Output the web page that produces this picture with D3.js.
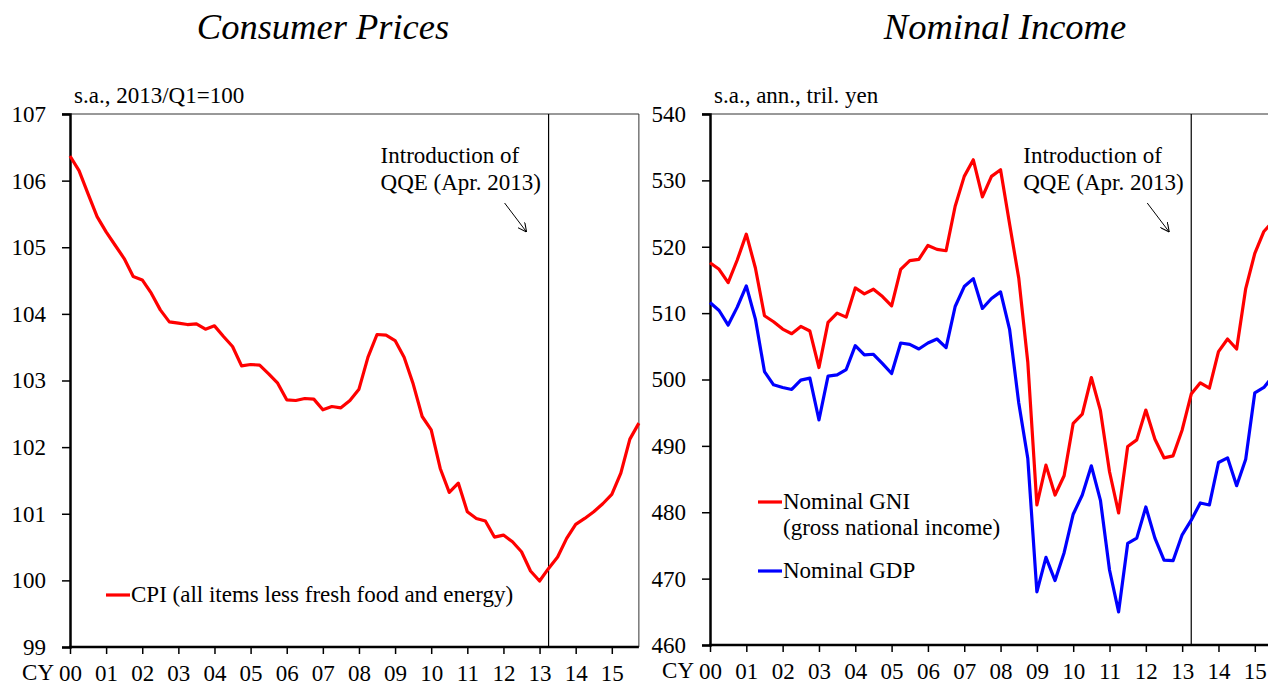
<!DOCTYPE html>
<html>
<head>
<meta charset="utf-8">
<script src="https://cdn.jsdelivr.net/npm/d3@7"></script>
<style>
  body { margin: 0; background: #fff; }
  svg { display: block; font-family: "Liberation Serif", "Times New Roman", serif; }
</style>
</head>
<body>
<svg id="chart" width="1268" height="682"></svg>
<script>
// quarterly data, 2000/Q1 - 2015/Q4
const startYear = 2000;
const yearLabels = ["00", "01", "02", "03", "04", "05", "06", "07", "08", "09", "10", "11", "12", "13", "14", "15"];
const qqeQuarter = 53; // 2013/Q2

const cpi = [
  106.37, 106.15, 105.80, 105.46, 105.23, 105.03, 104.83, 104.56,
  104.51, 104.31, 104.06, 103.88, 103.86, 103.84, 103.85, 103.77,
  103.82, 103.66, 103.51, 103.22, 103.24, 103.23, 103.10, 102.96,
  102.71, 102.70, 102.73, 102.72, 102.56, 102.61, 102.59, 102.70,
  102.87, 103.35, 103.69, 103.68, 103.60, 103.35, 102.95, 102.46,
  102.26, 101.68, 101.32, 101.46, 101.03, 100.93, 100.89, 100.65,
  100.68, 100.58, 100.43, 100.14, 99.99, 100.18, 100.35, 100.63,
  100.84, 100.93, 101.03, 101.15, 101.29, 101.61, 102.12, 102.36
];

const gni = [
  517.6, 516.6, 514.6, 518.0, 521.9, 516.8, 509.6, 508.7,
  507.6, 506.9, 508.0, 507.3, 501.8, 508.6, 510.0, 509.4,
  513.8, 512.9, 513.6, 512.5, 511.1, 516.6, 517.9, 518.1,
  520.2, 519.6, 519.4, 526.1, 530.6, 533.1, 527.5, 530.6,
  531.6, 523.4, 515.3, 502.6, 481.1, 487.1, 482.6, 485.5,
  493.4, 494.8, 500.3, 495.3, 486.1, 479.9, 489.9, 490.9,
  495.4, 491.0, 488.2, 488.5, 492.4, 497.8, 499.5, 498.7,
  504.2, 506.1, 504.6, 513.7, 519.0, 522.3, 523.8, 525.0
];

const gdp = [
  511.6, 510.4, 508.2, 510.9, 514.1, 509.1, 501.2, 499.2,
  498.8, 498.5, 499.9, 500.2, 493.9, 500.5, 500.7, 501.5,
  505.1, 503.7, 503.8, 502.4, 500.9, 505.5, 505.3, 504.6,
  505.5, 506.1, 504.8, 511.0, 514.0, 515.2, 510.7, 512.2,
  513.2, 507.5, 496.5, 488.1, 468.0, 473.2, 469.7, 473.9,
  479.7, 482.6, 487.0, 481.8, 471.3, 465.0, 475.3, 476.1,
  480.8, 476.1, 472.8, 472.7, 476.6, 478.8, 481.4, 481.1,
  487.5, 488.2, 484.0, 488.0, 498.0, 498.8, 500.5, 501.0
];

const svg = d3.select("#chart");
const fontSize = 23;

function drawPanel(p) {
  const g = svg.append("g");
  const n = p.series[0].values.length;

  const x = d3.scaleLinear().domain([0, n - 1]).range([p.left, p.left + (n - 1) * p.qw]);
  const y = d3.scaleLinear().domain(p.yDomain).range([p.bottom, p.top]);

  // title
  g.append("text")
    .attr("x", p.titleX).attr("y", 39)
    .attr("text-anchor", "middle")
    .attr("font-size", 36.5).attr("font-style", "italic")
    .text(p.title);

  // unit
  g.append("text")
    .attr("x", p.left + 4).attr("y", 103)
    .attr("font-size", fontSize)
    .text(p.unit);

  // thin frame (top + right)
  g.append("line")
    .attr("x1", p.left - 8).attr("x2", x(n - 1))
    .attr("y1", p.top).attr("y2", p.top)
    .attr("stroke", "#333").attr("stroke-width", 1);
  g.append("line")
    .attr("x1", x(n - 1)).attr("x2", x(n - 1))
    .attr("y1", p.top).attr("y2", p.bottom)
    .attr("stroke", "#333").attr("stroke-width", 1);

  // QQE line
  g.append("line")
    .attr("x1", x(qqeQuarter)).attr("x2", x(qqeQuarter))
    .attr("y1", p.top).attr("y2", p.bottom)
    .attr("stroke", "#000").attr("stroke-width", 1.2);

  // y axis
  g.append("g")
    .attr("transform", `translate(${p.left},0)`)
    .call(d3.axisLeft(y).tickValues(p.yTicks).tickSize(8).tickPadding(16).tickFormat(d3.format("d")))
    .call(a => a.select(".domain").attr("stroke-width", 2.5))
    .call(a => a.selectAll(".tick line").attr("stroke-width", 1.5))
    .call(a => a.selectAll(".tick text")
      .attr("font-family", "Liberation Serif").attr("font-size", fontSize).attr("fill", "#000"));

  // x axis
  g.append("g")
    .attr("transform", `translate(0,${p.bottom})`)
    .call(d3.axisBottom(x)
      .tickValues(yearLabels.map((d, i) => i * 4))
      .tickSize(7).tickPadding(11)
      .tickFormat((d, i) => yearLabels[i]))
    .call(a => a.select(".domain").attr("stroke-width", 2.5).attr("d", `M${p.left - 1},0H${x(n - 1)}`))
    .call(a => a.selectAll(".tick line").attr("stroke-width", 1.5))
    .call(a => a.selectAll(".tick text")
      .attr("font-family", "Liberation Serif").attr("font-size", fontSize).attr("fill", "#000"));

  g.append("text")
    .attr("x", p.left - 16).attr("y", p.bottom + 33)
    .attr("text-anchor", "end")
    .attr("font-size", fontSize)
    .text("CY");

  // series
  const line = d3.line().x((d, i) => x(i)).y(d => y(d));
  p.series.forEach(s => {
    g.append("path")
      .datum(s.values)
      .attr("fill", "none")
      .attr("stroke", s.color)
      .attr("stroke-width", 3.2)
      .attr("stroke-linejoin", "round")
      .attr("d", line);
  });

  // annotation
  const ax = x(qqeQuarter);
  g.append("text")
    .attr("x", ax - 168).attr("y", 163)
    .attr("font-size", fontSize)
    .selectAll("tspan")
    .data(["Introduction of", "QQE (Apr. 2013)"])
    .join("tspan")
    .attr("x", ax - 168)
    .attr("dy", (d, i) => i === 0 ? 0 : 27)
    .text(d => d);
  g.append("line")
    .attr("x1", ax - 44).attr("y1", 203)
    .attr("x2", ax - 22).attr("y2", 232)
    .attr("stroke", "#000").attr("stroke-width", 1)
    .attr("marker-end", "url(#arrow)");

  // legend
  p.legend.forEach(l => {
    g.append("line")
      .attr("x1", l.x).attr("x2", l.x + 24)
      .attr("y1", l.y).attr("y2", l.y)
      .attr("stroke", l.color).attr("stroke-width", 3.2);
    const t = g.append("text")
      .attr("x", l.x + 25).attr("y", l.y + 7)
      .attr("font-size", fontSize);
    l.text.forEach((s, i) => {
      t.append("tspan").attr("x", l.x + 25).attr("dy", i === 0 ? 0 : 26).text(s);
    });
  });
}

svg.append("defs").append("marker")
  .attr("id", "arrow")
  .attr("viewBox", "0 0 10 10")
  .attr("refX", 10).attr("refY", 5)
  .attr("markerWidth", 9).attr("markerHeight", 9)
  .attr("markerUnits", "userSpaceOnUse")
  .attr("orient", "auto")
  .append("path")
  .attr("d", "M0,0L10,5L0,10")
  .attr("fill", "none").attr("stroke", "#000").attr("stroke-width", 1.2);

drawPanel({
  title: "Consumer Prices", titleX: 323,
  unit: "s.a., 2013/Q1=100",
  left: 70, qw: 9.03, top: 114, bottom: 647,
  yDomain: [99, 107], yTicks: d3.range(99, 108),
  series: [{ values: cpi, color: "#ff0000" }],
  legend: [{ x: 106, y: 595, color: "#ff0000", text: ["CPI (all items less fresh food and energy)"] }]
});

drawPanel({
  title: "Nominal Income", titleX: 1005,
  unit: "s.a., ann., tril. yen",
  left: 710, qw: 9.08, top: 114, bottom: 645,
  yDomain: [460, 540], yTicks: d3.range(460, 541, 10),
  series: [{ values: gni, color: "#ff0000" }, { values: gdp, color: "#0000ff" }],
  legend: [
    { x: 758, y: 502, color: "#ff0000", text: ["Nominal GNI", "(gross national income)"] },
    { x: 758, y: 571, color: "#0000ff", text: ["Nominal GDP"] }
  ]
});
</script>
</body>
</html>
